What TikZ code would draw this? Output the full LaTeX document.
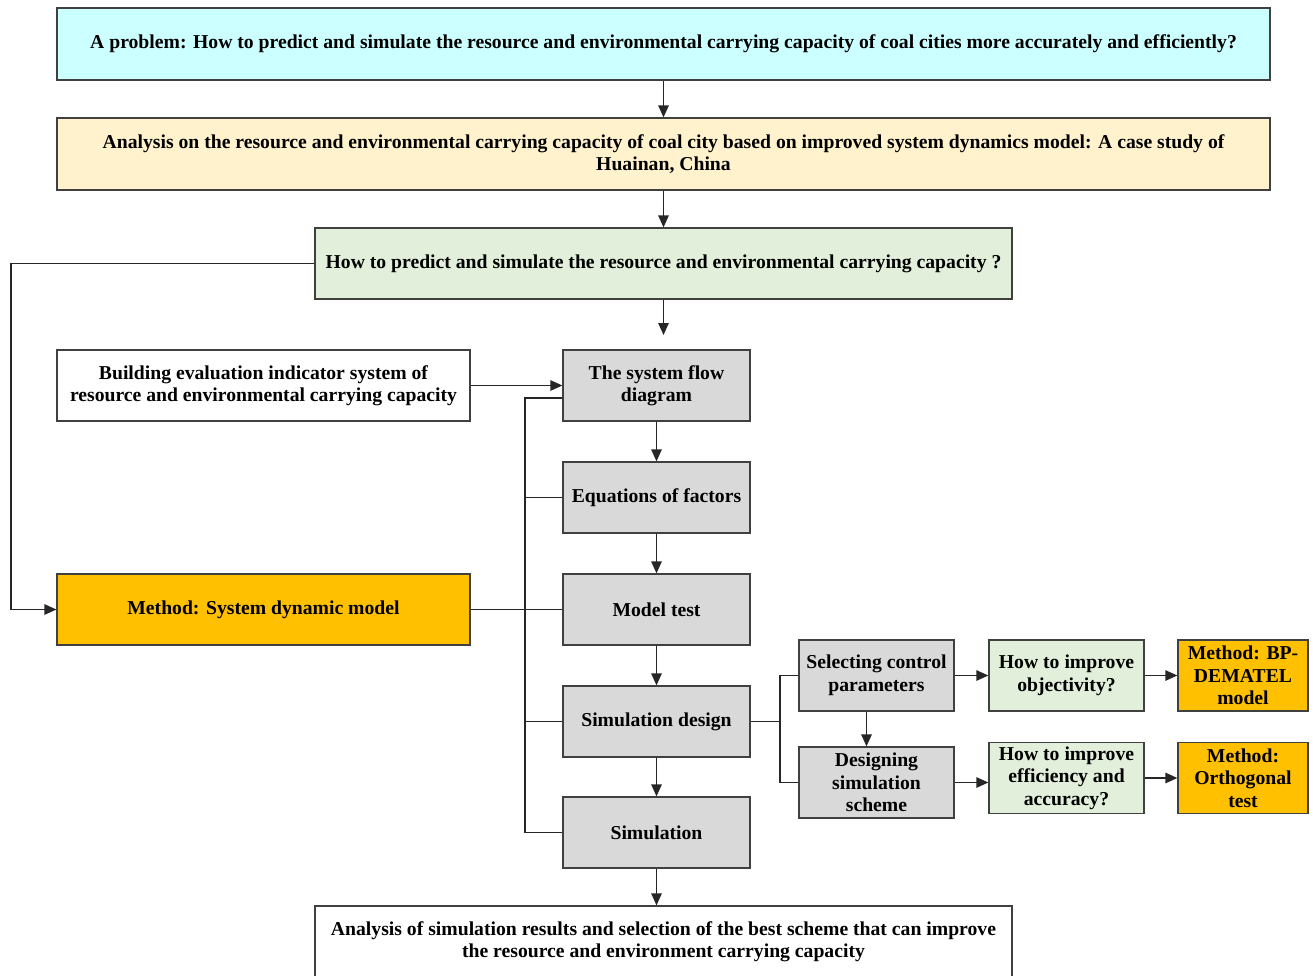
\documentclass[tikz,border=0pt]{standalone}
\usepackage{fontspec}
\setmainfont{Liberation Serif}
\usetikzlibrary{arrows.meta}
\definecolor{probcol}{HTML}{CCFFFF}
\definecolor{titlecol}{HTML}{FFF2CC}
\definecolor{askcol}{HTML}{E2EFDA}
\definecolor{stepcol}{HTML}{D9D9D9}
\definecolor{methcol}{HTML}{FFC000}
\tikzset{
	box/.style={draw=black!75,line width=.75pt,align=center,font=\fontsize{11.2}{12.8}\selectfont\bfseries,inner sep=2pt},
	wide/.style={box,minimum width=24.26cm,minimum height=1.44cm},
	mid/.style={box,minimum width=13.94cm,minimum height=1.42cm},
	side/.style={box,minimum width=8.26cm,minimum height=1.42cm},
	stage/.style={box,fill=stepcol,minimum width=3.74cm,minimum height=1.42cm},
	small/.style={box,minimum width=3.1cm,minimum height=1.42cm},
	tip/.style={box,fill=methcol,minimum width=2.6cm,minimum height=1.42cm},
	link/.style={draw=black!85,line width=.75pt},
	arr/.style={link,-{Triangle[length=2.4mm,width=2.1mm]}}
}
\begin{document}
\begin{tikzpicture}[x=.02cm,y=-.02cm]
	\useasboundingbox (0,0) rectangle (1313,975);
	\node[wide,fill=probcol] (prob) at (663.5,44) {A problem: How to predict and simulate the resource and environmental carrying capacity of coal cities more accurately and efficiently?};
	\node[wide,fill=titlecol] (title) at (663.5,154) {Analysis on the resource and environmental carrying capacity of coal city based on improved system dynamics model: A case study of\\Huainan, China};
	\node[mid,fill=askcol] (how) at (663.5,263.5) {How to predict and simulate the resource and environmental carrying capacity ?};
	\node[side] (build) at (263.5,385.5) {Building evaluation indicator system of\\resource and environmental carrying capacity};
	\node[side,fill=methcol] (method) at (263.5,609.5) {Method: System dynamic model};
	\node[stage] (flow) at (656.5,385.5) {The system flow\\diagram};
	\node[stage] (eqn) at (656.5,497.5) {Equations of factors};
	\node[stage] (test) at (656.5,609.5) {Model test};
	\node[stage] (design) at (656.5,721.5) {Simulation design};
	\node[stage] (sim) at (656.5,832.5) {Simulation};
	\node[small,fill=stepcol] (select) at (876.5,675.5) {Selecting control\\parameters};
	\node[small,fill=stepcol] (scheme) at (876.5,782.5) {Designing\\simulation\\scheme};
	\node[small,fill=askcol] (objq) at (1066.5,675.5) {How to improve\\objectivity?};
	\node[small,fill=askcol] (effq) at (1066.5,778) {How to improve\\efficiency and\\accuracy?};
	\node[tip] (bp) at (1243,675.5) {Method: BP-\\DEMATEL\\model};
	\node[tip] (orth) at (1243,778) {Method:\\Orthogonal\\test};
	\node[mid] (result) at (663.5,941.5) {Analysis of simulation results and selection of the best scheme that can improve\\the resource and environment carrying capacity};

	\draw[arr] (prob) -- (title);
	\draw[arr] (title) -- (how);
	\coordinate (flowin) at (663.5,335);
	\draw[arr] (how) -- (flowin);
	\draw[arr] (how.west) -- (11,263.5) |- (method.west);
	\draw[arr] (build) -- (flow);
	\foreach \a/\b in {flow/eqn,eqn/test,test/design,design/sim,sim/result}
		\draw[arr] (\a.south) -- (\a.south |- \b.north);

	\coordinate (bustop) at (525,398);
	\draw[link] (method) -- (test);
	\draw[link] (bustop -| flow.west) -- (bustop) |- (sim.west);
	\foreach \n in {eqn,design}
		\draw[link] (\n.west) -- (\n.west -| bustop);

	\coordinate (fork) at (780,721.5);
	\draw[link] (design) -- (fork);
	\draw[link] (select.west) -| (fork) |- (scheme.west);
	\draw[arr] ([xshift=-.2cm]select.south) -- ([xshift=-.2cm]scheme.north);
	\draw[arr] (select) -- (objq);
	\draw[arr] (objq) -- (bp);
	\draw[arr] (scheme.east) -- (scheme.east -| effq.west);
	\draw[arr] (effq) -- (orth);
\end{tikzpicture}
\end{document}
